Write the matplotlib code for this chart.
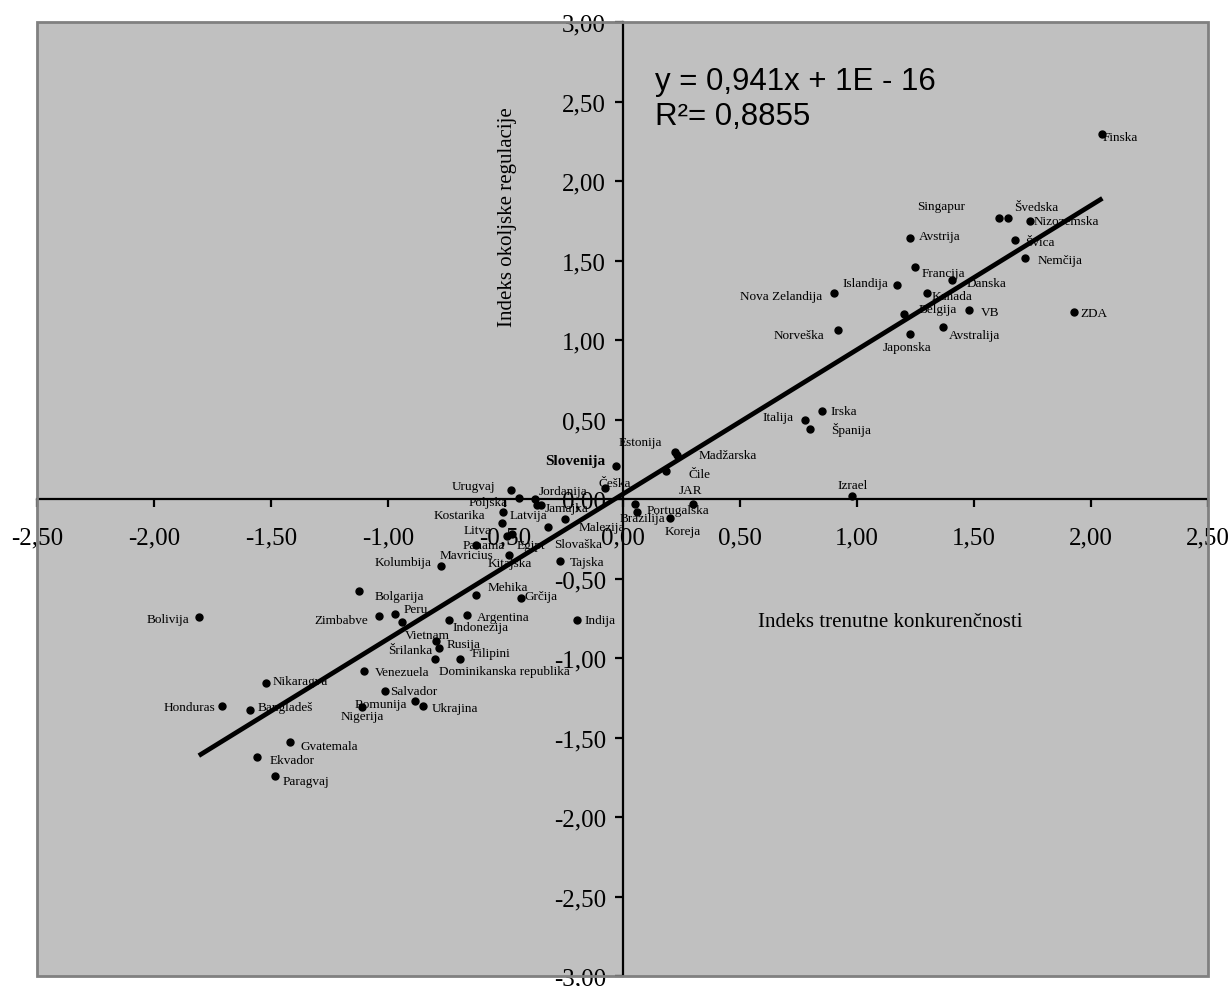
import matplotlib
matplotlib.use('Agg')
import matplotlib.pyplot as plt
from matplotlib.ticker import MultipleLocator, FuncFormatter
from matplotlib.patches import Rectangle

# podatki (odcitani z grafa)
drzave = ['Finska', 'Singapur', 'Švedska', 'Nizozemska', 'Avstrija', 'Švica', 'Nemčija',
          'Francija', 'Danska', 'Islandija', 'Kanada', 'Nova Zelandija', 'Belgija', 'VB',
          'ZDA', 'Avstralija', 'Japonska', 'Norveška', 'Irska', 'Italija', 'Španija',
          'Izrael', 'Estonija', 'Madžarska', 'Čile', 'Slovenija', 'Češka', 'JAR',
          'Portugalska', 'Brazilija', 'Koreja', 'Urugvaj', 'Poljska', 'Jordanija',
          'Jamajka', 'Egipt', 'Latvija', 'Kostarika', 'Malezija', 'Slovaška', 'Litva',
          'Panama', 'Mavricius', 'Kitajska', 'Tajska', 'Kolumbija', 'Mehika', 'Grčija',
          'Indija', 'Bolgarija', 'Zimbabve', 'Peru', 'Vietnam', 'Indonezija', 'Argentina',
          'Rusija', 'Šrilanka', 'Filipini', 'Dominikanska republika', 'Venezuela',
          'Nikaragva', 'Honduras', 'Bangladeš', 'Salvador', 'Romunija', 'Nigerija',
          'Ukrajina', 'Gvatemala', 'Ekvador', 'Paragvaj', 'Bolivija']

konkurencnost = [2.047, 1.609, 1.647, 1.738, 1.228, 1.678, 1.718,
                 1.249, 1.408, 1.170, 1.299, 0.902, 1.200, 1.479,
                 1.926, 1.368, 1.228, 0.919, 0.851, 0.779, 0.802,
                 0.980, 0.223, 0.233, 0.184, -0.026, -0.075, 0.301,
                 0.055, 0.064, 0.201, -0.476, -0.444, -0.374,
                 -0.366, -0.348, -0.512, -0.515, -0.246, -0.316, -0.494,
                 -0.473, -0.625, -0.484, -0.267, -0.774, -0.625, -0.434,
                 -0.195, -1.123, -1.040, -0.972, -0.941, -0.742, -0.664,
                 -0.782, -0.802, -0.695, -0.795, -1.102,
                 -1.522, -1.709, -1.590, -1.012, -0.885, -1.112,
                 -0.853, -1.420, -1.560, -1.482, -1.809]

regulacija = [2.297, 1.769, 1.769, 1.748, 1.639, 1.629, 1.518,
              1.459, 1.378, 1.346, 1.298, 1.298, 1.162, 1.187,
              1.177, 1.082, 1.038, 1.062, 0.551, 0.498, 0.442,
              0.021, 0.297, 0.276, 0.178, 0.210, 0.072, -0.031,
              -0.031, -0.080, -0.121, 0.058, 0.008, 0.000,
              -0.038, -0.038, -0.080, -0.151, -0.126, -0.178, -0.232,
              -0.220, -0.289, -0.350, -0.389, -0.419, -0.601, -0.620,
              -0.758, -0.580, -0.733, -0.722, -0.771, -0.758, -0.731,
              -0.936, -1.009, -1.009, -0.890, -1.080,
              -1.160, -1.300, -1.330, -1.210, -1.271, -1.308,
              -1.300, -1.531, -1.621, -1.740, -0.741]

# trendna crta (kot je narisana)
trend_x = [-1.809, 2.049]
trend_y = [-1.614, 1.891]
enacba = 'y = 0,941x + 1E - 16'
r2 = 'R\u00b2= 0,8855'

# polozaj oznak (piksli od tocke, poravnava)
oznake = {
    'Finska': (1, -3, 'left'), 'Singapur': (-82, 12, 'left'), 'Švedska': (6, 11, 'left'),
    'Nizozemska': (4, 0, 'left'), 'Avstrija': (9, 2, 'left'), 'Švica': (10, -2, 'left'),
    'Nemčija': (13, -2, 'left'), 'Francija': (7, -6, 'left'), 'Danska': (14, -3, 'left'),
    'Islandija': (-8, 2, 'right'), 'Kanada': (5, -3, 'left'), 'Nova Zelandija': (-11, -3, 'right'),
    'Belgija': (15, 5, 'left'), 'VB': (12, -2, 'left'), 'ZDA': (7, -1, 'left'),
    'Avstralija': (6, -8, 'left'), 'Japonska': (-27, -13, 'left'), 'Norveška': (-13, -5, 'right'),
    'Irska': (9, 0, 'left'), 'Italija': (-11, 3, 'right'), 'Španija': (21, 0, 'left'),
    'Izrael': (-15, 11, 'left'), 'Estonija': (-56, 10, 'left'), 'Madžarska': (22, 0, 'left'),
    'Čile': (23, -3, 'left'), 'Slovenija': (-11, 5, 'right'), 'Češka': (-6, 5, 'left'),
    'JAR': (-14, 14, 'left'), 'Portugalska': (11, -6, 'left'), 'Brazilija': (-18, -6, 'left'),
    'Koreja': (-5, -13, 'left'), 'Urugvaj': (-16, 4, 'right'), 'Poljska': (-11, -4, 'right'),
    'Jordanija': (4, 8, 'left'), 'Jamajka': (8, -3, 'left'), 'Egipt': (-24, -40, 'left'),
    'Latvija': (7, -3, 'left'), 'Kostarika': (-17, 8, 'right'), 'Malezija': (14, -8, 'left'),
    'Slovaška': (6, -17, 'left'), 'Litva': (-15, 6, 'right'), 'Panama': (-7, -11, 'right'),
    'Mavricius': (-37, -10, 'left'), 'Kitajska': (-22, -8, 'left'), 'Tajska': (10, -1, 'left'),
    'Kolumbija': (-10, 4, 'right'), 'Mehika': (11, 8, 'left'), 'Grčija': (4, 2, 'left'),
    'Indija': (8, 0, 'left'), 'Bolgarija': (15, -5, 'left'), 'Zimbabve': (-11, -4, 'right'),
    'Peru': (9, 5, 'left'), 'Vietnam': (3, -13, 'left'), 'Indonezija': (4, -7, 'left'),
    'Argentina': (10, -2, 'left'), 'Rusija': (7, 4, 'left'), 'Šrilanka': (-2, 9, 'right'),
    'Filipini': (12, 6, 'left'), 'Dominikanska republika': (3, -30, 'left'),
    'Venezuela': (10, -1, 'left'), 'Nikaragva': (7, 2, 'left'), 'Honduras': (-7, -1, 'right'),
    'Bangladeš': (7, 3, 'left'), 'Salvador': (5, 0, 'left'), 'Romunija': (-8, -3, 'right'),
    'Nigerija': (-21, -9, 'left'), 'Ukrajina': (9, -2, 'left'), 'Gvatemala': (11, -4, 'left'),
    'Ekvador': (12, -3, 'left'), 'Paragvaj': (7, -5, 'left'), 'Bolivija': (-9, -2, 'right'),
}

serif = 'Liberation Serif'
sans = 'Liberation Sans'

fig = plt.figure(figsize=(12.31, 9.87), dpi=100)
ax = fig.add_axes([37 / 1231, 1 - 977 / 987, 1171 / 1231, 954 / 987])
ax.set_facecolor('#c0c0c0')
ax.set_xlim(-2.5, 2.5)
ax.set_ylim(-3, 3)

# osi skozi izhodisce
for s in ['top', 'right']:
    ax.spines[s].set_visible(False)
ax.spines['left'].set_position(('data', 0))
ax.spines['bottom'].set_position(('data', 0))
ax.spines['left'].set_linewidth(1.6)
ax.spines['bottom'].set_linewidth(1.6)
ax.add_patch(Rectangle((0, 0), 1, 1, transform=ax.transAxes, fill=False,
                       edgecolor='#808080', lw=2, clip_on=False, zorder=5))

fmt = FuncFormatter(lambda v, p: ('%.2f' % v).replace('.', ','))
ax.xaxis.set_major_locator(MultipleLocator(0.5))
ax.yaxis.set_major_locator(MultipleLocator(0.5))
ax.xaxis.set_major_formatter(fmt)
ax.yaxis.set_major_formatter(fmt)
ax.tick_params(direction='out', length=6, width=1.6, labelsize=18)
ax.tick_params(axis='x', pad=14)
ax.tick_params(axis='y', pad=6)
for lab in ax.get_xticklabels() + ax.get_yticklabels():
    lab.set_fontfamily(serif)

# tocke in oznake
ax.plot(konkurencnost, regulacija, 'o', color='black', markersize=5, zorder=3, clip_on=False)
for ime, x, y in zip(drzave, konkurencnost, regulacija):
    dx, dy, ha = oznake[ime]
    if ime == 'Slovenija':
        vel, debelina = 11, 'bold'
    else:
        vel, debelina = 9.5, 'normal'
    ax.annotate(ime, (x, y), xytext=(dx, dy), textcoords='offset pixels',
                ha=ha, va='center', fontsize=vel, family=serif,
                fontweight=debelina, zorder=4)

ax.plot(trend_x, trend_y, color='black', lw=3.4, solid_capstyle='butt', zorder=6)

ax.text(0.528, 0.9298, enacba, transform=ax.transAxes, fontsize=22.5, family=sans, va='baseline')
ax.text(0.528, 0.8931, r2, transform=ax.transAxes, fontsize=22.5, family=sans, va='baseline')

ax.text(0.4014, 0.7966, 'Indeks okoljske regulacije', transform=ax.transAxes, rotation=90,
        ha='center', va='center', fontsize=15, family=serif)
ax.text(0.7284, 0.3721, 'Indeks trenutne konkurenčnosti', transform=ax.transAxes,
        ha='center', va='center', fontsize=15, family=serif)

fig.savefig('out.png', dpi=100)
